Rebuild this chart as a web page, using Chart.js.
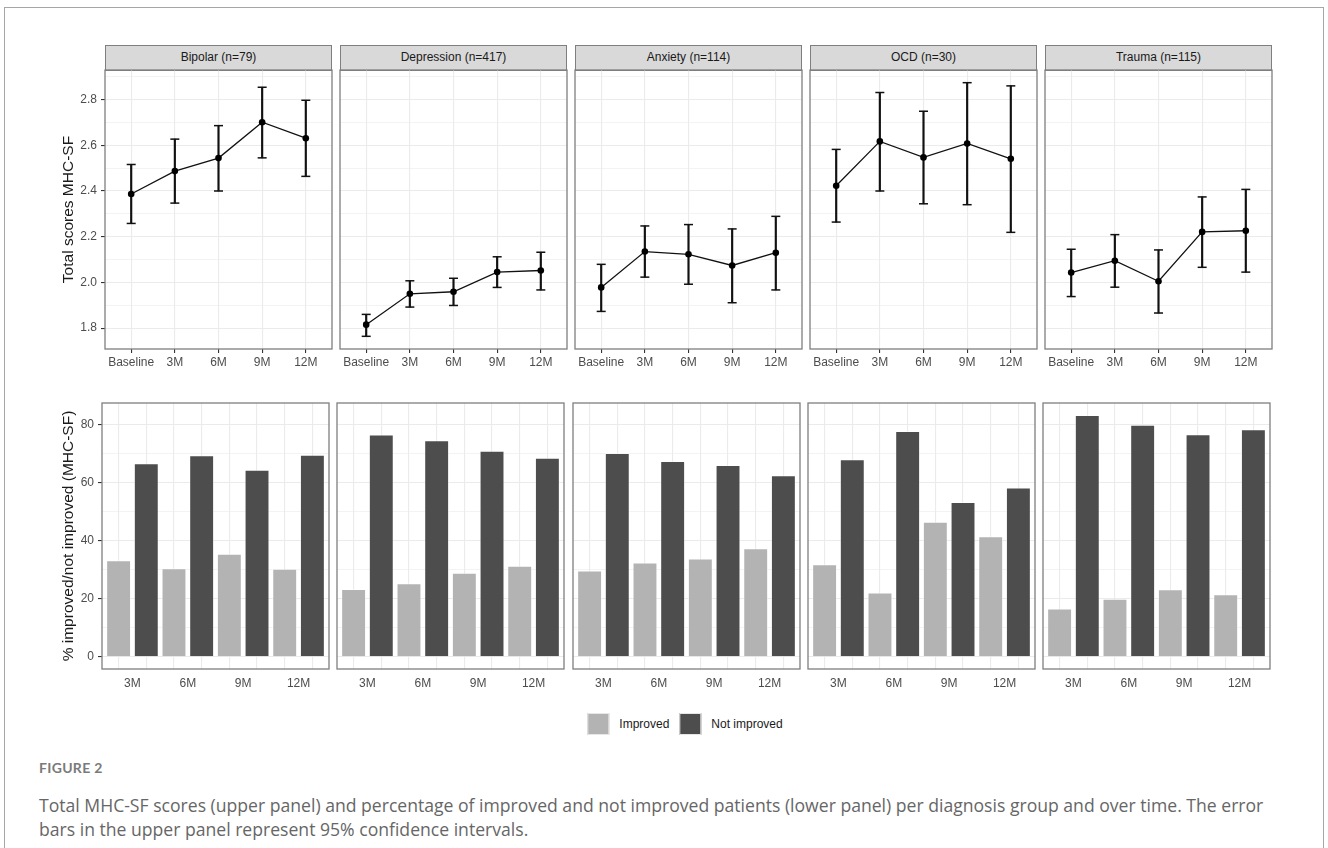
<!DOCTYPE html>
<html>
<head>
<meta charset="utf-8">
<script src="https://cdn.jsdelivr.net/npm/chart.js@4.4.1/dist/chart.umd.min.js"></script>
<style>
  body { margin: 0; background: #fff; }
  #page { position: relative; width: 1328px; height: 848px; overflow: hidden; font-family: 'Liberation Sans', Arial, sans-serif; }
  #frame { position: absolute; left: 4px; top: 7px; width: 1320px; height: 900px; border: 1.5px solid #a6a6a6; box-sizing: border-box; }
  .strip { position: absolute; top: 45px; height: 26px; width: 227px; box-sizing: border-box; border: 1.3px solid #7f7f7f;
           background: #d9d9d9; color: #1a1a1a; font-size: 12px; text-align: center; line-height: 23px; }
  canvas { position: absolute; }
  #legend { position: absolute; top: 713px; left: 690px; transform: translateX(-50%); display: flex; align-items: center;
            font-size: 12px; color: #1a1a1a; white-space: nowrap; }
  #legend .key { width: 22px; height: 22px; margin-right: 10px; box-sizing: border-box; border: 1px solid #e6e6e6; }
  #legend .lab { margin-right: 10px; }
  #figlabel { position: absolute; left: 39px; top: 759px; font: bold 14px Lato, sans-serif; color: #7a7a7a; letter-spacing: 0.3px; }
  #caption { position: absolute; left: 39px; top: 793px; width: 1285px; font: 17.6px/24px 'Open Sans', sans-serif; color: #666; white-space: nowrap; }
</style>
</head>
<body>
<div id="page">
  <div id="frame"></div>
  <div id="legend"></div>
  <div id="figlabel">FIGURE 2</div>
  <div id="caption">Total MHC-SF scores (upper panel) and percentage of improved and not improved patients (lower panel) per diagnosis group and over time. The error<br>bars in the upper panel represent 95% confidence intervals.</div>
</div>
<script>
var groups = ['Bipolar (n=79)', 'Depression (n=417)', 'Anxiety (n=114)', 'OCD (n=30)', 'Trauma (n=115)'];
var timepoints = ['Baseline', '3M', '6M', '9M', '12M'];
var followups = ['3M', '6M', '9M', '12M'];

// mean total MHC-SF score per group and timepoint
var meanScore = [
  [2.387, 2.487, 2.544, 2.701, 2.631],
  [1.815, 1.950, 1.959, 2.045, 2.052],
  [1.978, 2.135, 2.123, 2.074, 2.130],
  [2.423, 2.617, 2.547, 2.608, 2.541],
  [2.043, 2.095, 2.005, 2.221, 2.226]
];
// 95% CI
var ciLower = [
  [2.258, 2.347, 2.400, 2.545, 2.464],
  [1.764, 1.892, 1.899, 1.978, 1.967],
  [1.873, 2.023, 1.992, 1.911, 1.967],
  [2.264, 2.400, 2.344, 2.340, 2.219],
  [1.938, 1.979, 1.866, 2.066, 2.045]
];
var ciUpper = [
  [2.516, 2.627, 2.686, 2.854, 2.797],
  [1.860, 2.007, 2.018, 2.112, 2.132],
  [2.079, 2.247, 2.253, 2.234, 2.289],
  [2.582, 2.831, 2.749, 2.874, 2.860],
  [2.145, 2.209, 2.142, 2.374, 2.407]
];
// % improved / not improved at each follow-up
var pctImproved = [
  [33.3, 30.5, 35.5, 30.4],
  [23.4, 25.4, 29.0, 31.4],
  [29.8, 32.5, 33.9, 37.4],
  [31.9, 22.2, 46.6, 41.6],
  [16.7, 20.0, 23.3, 21.6]
];
var pctNotImproved = [
  [66.7, 69.5, 64.5, 69.6],
  [76.6, 74.6, 71.0, 68.6],
  [70.2, 67.5, 66.1, 62.6],
  [68.1, 77.8, 53.4, 58.4],
  [83.3, 80.0, 76.7, 78.4]
];
var scoreTicks = [1.8, 2.0, 2.2, 2.4, 2.6, 2.8];
var pctTicks = [0, 20, 40, 60, 80];
var seriesNames = ['Improved', 'Not improved'];
var seriesColors = ['#b3b3b3', '#4d4d4d'];

// layout (px)
var topLeft = [105, 340, 575, 810, 1045];
var bottomLeft = [102, 337, 573, 808, 1043];
var panelW = 227, topH = 279, bottomH = 266, axisW = 53, bottomAxisW = 50, pad = 2;

Chart.defaults.font.family = "'Liberation Sans', Arial, sans-serif";
Chart.defaults.color = '#4d4d4d';

var page = document.getElementById('page');

function flat(a) { return [].concat.apply([], a); }
function expand(lo, hi) { var d = (hi - lo) * 0.05; return [lo - d, hi + d]; }
function isMajor(major, v) { return major.some(function(m) { return Math.abs(m - v) < 1e-9; }); }
function withMinor(major, range) {
  var step = major[1] - major[0];
  var all = major.concat(major.map(function(v) { return v + step / 2; }), [major[0] - step / 2]);
  return all.filter(function(v) { return v >= range[0] && v <= range[1]; }).sort(function(a, b) { return a - b; });
}

var scoreRange = expand(Math.min.apply(null, flat(ciLower)), Math.max.apply(null, flat(ciUpper)));
var pctRange = expand(0, Math.max.apply(null, flat(pctImproved).concat(flat(pctNotImproved))));

var framePlugin = {
  id: 'frame',
  afterDraw: function(chart) {
    var a = chart.chartArea, ctx = chart.ctx;
    ctx.save();
    ctx.strokeStyle = '#7f7f7f';
    ctx.lineWidth = 1.3;
    ctx.strokeRect(a.left, a.top, a.right - a.left, a.bottom - a.top);
    ctx.restore();
  }
};

function yAxis(first, major, range, fmt, title, width) {
  var all = withMinor(major, range);
  return {
    type: 'linear', min: range[0], max: range[1], bounds: 'data',
    afterBuildTicks: function(s) { s.ticks = all.map(function(v) { return { value: v }; }); },
    ticks: { display: first, autoSkip: false, padding: 4, color: '#4d4d4d', font: { size: 12 },
      callback: function(v) { return isMajor(major, v) ? fmt(v) : ''; } },
    grid: { color: '#ebebeb', drawTicks: first, tickLength: 4,
      lineWidth: function(c) { return c.tick && isMajor(major, c.tick.value) ? 1.1 : 0.6; },
      tickColor: function(c) { return c.tick && isMajor(major, c.tick.value) ? '#333' : 'rgba(0,0,0,0)'; } },
    border: { display: false },
    title: { display: first, text: title, color: '#1a1a1a', font: { size: 15.5 }, padding: { top: 7.7, bottom: 0 } },
    afterFit: function(s) { s.width = first ? width : 0; s.paddingTop = 0; s.paddingBottom = 0; }
  };
}

function addCanvas(left, top, w, h) {
  var c = document.createElement('canvas');
  c.width = w; c.height = h;
  c.style.left = left + 'px'; c.style.top = top + 'px';
  page.appendChild(c);
  return c;
}

function baseOptions() {
  return {
    responsive: false, animation: false, devicePixelRatio: 1, events: [],
    layout: { autoPadding: false, padding: { left: pad, right: pad, top: pad, bottom: 0 } },
    plugins: { legend: { display: false }, tooltip: { enabled: false } }
  };
}

// upper row: mean scores with 95% CI
groups.forEach(function(name, g) {
  var first = g === 0;
  var yW = first ? axisW : 0;
  var strip = document.createElement('div');
  strip.className = 'strip';
  strip.style.left = topLeft[g] + 'px';
  strip.textContent = name;
  page.appendChild(strip);

  var cv = addCanvas(topLeft[g] - pad - yW, 70 - pad, pad + yW + panelW + pad, pad + topH + 25);
  var pts = function(arr) { return timepoints.map(function(t, i) { return { x: i + 1, y: arr[g][i] }; }); };
  var opts = baseOptions();
  opts.scales = {
    x: {
      type: 'linear', min: 0.4, max: timepoints.length + 0.6, bounds: 'data', offset: false,
      afterBuildTicks: function(s) { s.ticks = timepoints.map(function(t, i) { return { value: i + 1 }; }); },
      ticks: { autoSkip: false, maxRotation: 0, padding: 2, color: '#4d4d4d', font: { size: 12 },
        callback: function(v) { return timepoints[Math.round(v) - 1]; } },
      grid: { color: '#ebebeb', lineWidth: 1.1, tickLength: 4, tickColor: '#333', offset: false },
      border: { display: false },
      afterFit: function(s) { s.height = 25; s.paddingLeft = 0; s.paddingRight = 0; }
    },
    y: yAxis(first, scoreTicks, scoreRange, function(v) { return v.toFixed(1); }, 'Total scores MHC-SF', axisW)
  };
  new Chart(cv, {
    type: 'line',
    data: {
      datasets: [
        { type: 'line', data: pts(meanScore), borderColor: '#111', borderWidth: 1.3, tension: 0,
          pointRadius: 3.3, pointBackgroundColor: '#000', pointBorderColor: '#000', pointBorderWidth: 0, order: 1 },
        { type: 'line', data: pts(ciLower), showLine: false, pointStyle: 'line', pointRadius: 4.5,
          pointBorderWidth: 1.5, pointBorderColor: '#111', order: 2 },
        { type: 'line', data: pts(ciUpper), showLine: false, pointStyle: 'line', pointRadius: 4.5,
          pointBorderWidth: 1.5, pointBorderColor: '#111', order: 2 },
        { type: 'bar', data: timepoints.map(function(t, i) { return { x: i + 1, y: [ciLower[g][i], ciUpper[g][i]] }; }),
          backgroundColor: '#111', borderWidth: 0, barThickness: 1.5, grouped: false, order: 3 }
      ]
    },
    options: opts,
    plugins: [framePlugin]
  });
});

// lower row: % improved / not improved
groups.forEach(function(name, g) {
  var first = g === 0;
  var yW = first ? bottomAxisW : 0;
  var cv = addCanvas(bottomLeft[g] - pad - yW, 403 - pad, pad + yW + panelW + pad, pad + bottomH + 25);
  var nPos = followups.length * 2;
  var opts = baseOptions();
  opts.scales = {
    x: {
      type: 'linear', min: 0.4, max: nPos + 0.6, bounds: 'data', offset: false,
      afterBuildTicks: function(s) { var t = []; for (var i = 1; i <= nPos; i++) t.push({ value: i }); s.ticks = t; },
      ticks: { display: false },
      grid: { color: '#ebebeb', lineWidth: 1.1, drawTicks: false, offset: false },
      border: { display: false },
      afterFit: function(s) { s.height = 0; s.paddingLeft = 0; s.paddingRight = 0; }
    },
    xl: {
      type: 'linear', position: 'bottom', axis: 'x', min: 0.4, max: nPos + 0.6, bounds: 'data', offset: false,
      afterBuildTicks: function(s) { s.ticks = followups.map(function(t, i) { return { value: 2 * i + 1.5 }; }); },
      ticks: { autoSkip: false, maxRotation: 0, padding: 7, color: '#4d4d4d', font: { size: 12 },
        callback: function(v) { return followups[Math.round((v - 1.5) / 2)]; } },
      grid: { display: false, drawTicks: false, offset: false },
      border: { display: false },
      afterFit: function(s) { s.height = 25; s.paddingLeft = 0; s.paddingRight = 0; }
    },
    y: yAxis(first, pctTicks, pctRange, function(v) { return String(v); }, '% improved/not improved (MHC-SF)', bottomAxisW)
  };
  new Chart(cv, {
    type: 'bar',
    data: {
      datasets: [
        { label: seriesNames[0], data: followups.map(function(t, i) { return { x: 2 * i + 1, y: pctImproved[g][i] }; }),
          backgroundColor: seriesColors[0], borderColor: 'rgba(255,255,255,0.55)', borderWidth: 1,
          grouped: false, barPercentage: 0.9, categoryPercentage: 1 },
        { label: seriesNames[1], data: followups.map(function(t, i) { return { x: 2 * i + 2, y: pctNotImproved[g][i] }; }),
          backgroundColor: seriesColors[1], borderColor: 'rgba(255,255,255,0.35)', borderWidth: 1,
          grouped: false, barPercentage: 0.9, categoryPercentage: 1 }
      ]
    },
    options: opts,
    plugins: [framePlugin]
  });
});

// legend
var legend = document.getElementById('legend');
seriesNames.forEach(function(n, i) {
  var k = document.createElement('span');
  k.className = 'key';
  k.style.background = seriesColors[i];
  var l = document.createElement('span');
  l.className = 'lab';
  l.textContent = n;
  legend.appendChild(k);
  legend.appendChild(l);
});
</script>
</body>
</html>
